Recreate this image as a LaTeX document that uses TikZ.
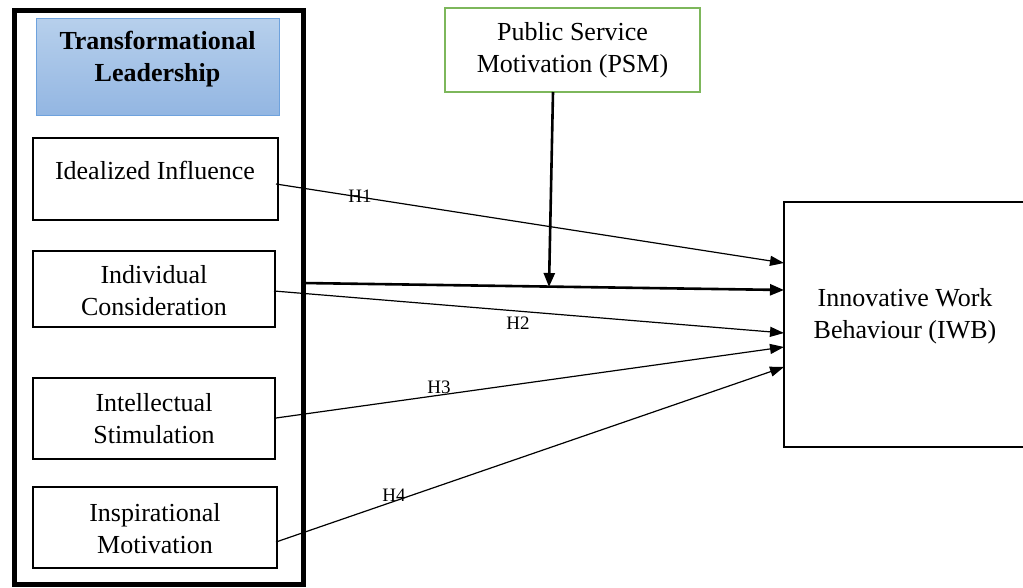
\documentclass[tikz,border=0pt]{standalone}
\usepackage{fontspec}
\setmainfont{Liberation Serif}
\usetikzlibrary{arrows.meta,calc}
\definecolor{tlblueA}{HTML}{B7D0EC}
\definecolor{tlblueB}{HTML}{93B6E2}
\definecolor{tlborder}{HTML}{6EA2DD}
\definecolor{psmgreen}{HTML}{7DB75B}
\begin{document}
\begin{tikzpicture}[x=1pt,y=-1pt,
  box/.style={draw=black,line width=1.2pt},
  txt/.style={font=\fontsize{26}{32}\selectfont,align=center,inner sep=0pt},
  hlab/.style={font=\fontsize{19}{22}\selectfont,inner sep=0pt},
  arr/.style={line width=1.2pt,-{Triangle[length=14pt,width=10pt]}},
  tharr/.style={line width=2.6pt,-{Triangle[length=14pt,width=11pt]}}]
\useasboundingbox (0,0) rectangle (1023,587);
% outer thick frame
\draw[line width=5pt] (14,10) rectangle (303,584);
% title box
\shade[top color=tlblueA,bottom color=tlblueB,draw=tlborder,line width=1pt] (36,18) rectangle (279,115);
\node[txt,font=\fontsize{26}{32}\selectfont\bfseries] (tl) at (157.5,59) {Transformational\\Leadership};
% dimension boxes
\draw[box] (33,138) rectangle (278,220);
\node[txt] (ii) at (155,170) {Idealized Influence};
\draw[box] (33,251) rectangle (275,327);
\node[txt] (ic) at (154,291) {Individual\\Consideration};
\draw[box] (33,378) rectangle (275,459);
\node[txt] (is) at (154,419) {Intellectual\\Stimulation};
\draw[box] (33,487) rectangle (277,568);
\node[txt] (im) at (155,529) {Inspirational\\Motivation};
% PSM
\draw[draw=psmgreen,line width=1.2pt] (445,8) rectangle (700,92);
\node[txt] (psm) at (572.5,50) {Public Service\\Motivation (PSM)};
% IWB
\draw[box] (784,202) rectangle (1030,447);
\node[txt] (iwb) at (905,316) {Innovative Work\\Behaviour (IWB)};
% coordinates
\coordinate (s1) at (276,184);
\coordinate (e1) at (784,263);
\coordinate (s0) at (303,283);
\coordinate (e0) at (784,290);
\coordinate (p0) at (553,92);
\coordinate (p1) at (549,287);
\coordinate (s2) at (274,291);
\coordinate (e2) at (784,333);
\coordinate (s3) at (276,418);
\coordinate (e3) at (784,347);
\coordinate (s4) at (276,542);
\coordinate (e4) at (784,367);
% arrows
\draw[arr] (s1) -- (e1);
\draw[tharr] (s0) -- (e0);
\draw[tharr] (p0) -- (p1);
\draw[arr] (s2) -- (e2);
\draw[arr] (s3) -- (e3);
\draw[arr] (s4) -- (e4);
% labels
\node[hlab] (h1) at (360,196) {H1};
\node[hlab] (h2) at (518,323) {H2};
\node[hlab] (h3) at (439,387) {H3};
\node[hlab] (h4) at (394,495) {H4};
\end{tikzpicture}
\end{document}
